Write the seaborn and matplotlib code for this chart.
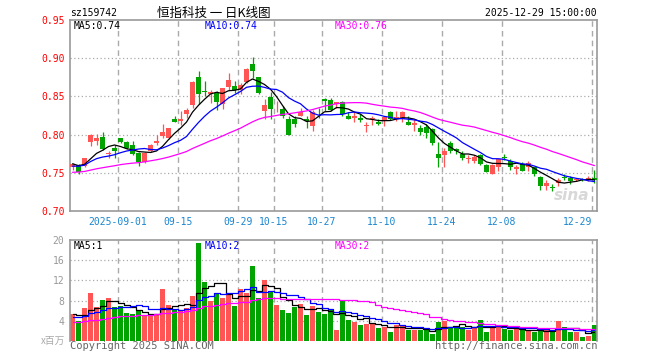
import numpy as np
import pandas as pd
import matplotlib
matplotlib.use("Agg")
import matplotlib.pyplot as plt
import seaborn as sns

# ---------------- data ----------------
open_ = [0.757, 0.760, 0.759, 0.790, 0.792, 0.797, 0.775, 0.782, 0.795, 0.790,
         0.787, 0.776, 0.764, 0.778, 0.789, 0.798, 0.795, 0.821, 0.818, 0.827,
         0.839, 0.875, 0.857, 0.853, 0.854, 0.840, 0.862, 0.864, 0.859, 0.869,
         0.892, 0.875, 0.831, 0.849, 0.837, 0.834, 0.821, 0.820, 0.824, 0.821,
         0.811, 0.830, 0.846, 0.845, 0.840, 0.843, 0.824, 0.822, 0.822, 0.811,
         0.820, 0.817, 0.819, 0.829, 0.820, 0.820, 0.817, 0.813, 0.808, 0.810,
         0.807, 0.774, 0.773, 0.789, 0.781, 0.775, 0.768, 0.765, 0.773, 0.760,
         0.749, 0.758, 0.771, 0.766, 0.755, 0.762, 0.757, 0.757, 0.744, 0.733,
         0.731, 0.736, 0.744, 0.743, 0.740, 0.742, 0.740, 0.743]
high = [0.763, 0.761, 0.770, 0.801, 0.801, 0.804, 0.778, 0.786, 0.796, 0.792,
        0.792, 0.777, 0.777, 0.788, 0.799, 0.814, 0.809, 0.824, 0.831, 0.835,
        0.870, 0.883, 0.870, 0.859, 0.857, 0.861, 0.880, 0.870, 0.868, 0.887,
        0.902, 0.876, 0.847, 0.856, 0.844, 0.838, 0.824, 0.824, 0.835, 0.825,
        0.832, 0.835, 0.848, 0.848, 0.843, 0.844, 0.830, 0.830, 0.827, 0.817,
        0.824, 0.820, 0.823, 0.831, 0.831, 0.831, 0.824, 0.820, 0.813, 0.814,
        0.808, 0.790, 0.783, 0.792, 0.783, 0.779, 0.773, 0.773, 0.775, 0.762,
        0.761, 0.768, 0.774, 0.768, 0.760, 0.764, 0.765, 0.758, 0.746, 0.741,
        0.735, 0.743, 0.748, 0.746, 0.743, 0.743, 0.746, 0.754]
low = [0.754, 0.749, 0.758, 0.785, 0.787, 0.780, 0.770, 0.770, 0.789, 0.781,
       0.773, 0.759, 0.763, 0.777, 0.786, 0.796, 0.794, 0.816, 0.813, 0.822,
       0.835, 0.840, 0.850, 0.842, 0.832, 0.834, 0.859, 0.855, 0.853, 0.868,
       0.874, 0.853, 0.820, 0.820, 0.829, 0.822, 0.800, 0.810, 0.824, 0.809,
       0.805, 0.822, 0.831, 0.831, 0.835, 0.825, 0.820, 0.817, 0.817, 0.803,
       0.813, 0.812, 0.811, 0.819, 0.818, 0.817, 0.812, 0.805, 0.800, 0.795,
       0.787, 0.758, 0.758, 0.776, 0.774, 0.767, 0.763, 0.763, 0.760, 0.751,
       0.748, 0.752, 0.767, 0.754, 0.749, 0.752, 0.752, 0.746, 0.727, 0.728,
       0.726, 0.733, 0.740, 0.735, 0.739, 0.739, 0.739, 0.737]
close = [0.761, 0.751, 0.769, 0.800, 0.796, 0.781, 0.776, 0.779, 0.790, 0.782,
         0.774, 0.764, 0.776, 0.787, 0.792, 0.804, 0.808, 0.817, 0.821, 0.832,
         0.869, 0.853, 0.856, 0.856, 0.843, 0.861, 0.871, 0.859, 0.865, 0.886,
         0.883, 0.855, 0.839, 0.834, 0.838, 0.825, 0.800, 0.814, 0.829, 0.818,
         0.829, 0.829, 0.844, 0.832, 0.843, 0.827, 0.821, 0.824, 0.819, 0.813,
         0.822, 0.814, 0.823, 0.820, 0.823, 0.830, 0.813, 0.815, 0.803, 0.802,
         0.789, 0.769, 0.779, 0.778, 0.778, 0.769, 0.769, 0.771, 0.761, 0.751,
         0.760, 0.768, 0.770, 0.757, 0.758, 0.752, 0.763, 0.748, 0.733, 0.737,
         0.730, 0.740, 0.743, 0.739, 0.742, 0.740, 0.743, 0.740]
volume = [5.3, 4.0, 6.5, 9.6, 6.8, 8.2, 8.5, 6.8, 7.0, 5.6,
          5.4, 5.9, 5.0, 5.1, 5.3, 10.3, 7.2, 6.3, 6.2, 6.6,
          9.0, 19.5, 11.6, 8.0, 9.4, 8.5, 9.4, 6.9, 10.2, 9.5,
          14.8, 8.6, 12.0, 9.7, 7.2, 6.2, 5.6, 6.8, 7.4, 5.2,
          7.0, 5.8, 5.4, 6.4, 2.2, 7.9, 4.2, 3.8, 3.2, 3.4,
          3.6, 2.6, 2.8, 1.8, 3.2, 3.0, 2.2, 2.2, 2.2, 2.2,
          1.4, 3.8, 4.0, 2.8, 3.0, 2.8, 2.2, 2.8, 4.2, 1.8,
          3.0, 3.0, 2.4, 2.2, 2.4, 2.2, 2.0, 1.8, 2.0, 2.2,
          2.0, 4.0, 2.8, 1.8, 1.8, 0.8, 1.0, 3.2]
# sessions before the visible window (only feed the moving averages)
prior_close = [0.742, 0.745, 0.748, 0.744, 0.739, 0.736, 0.741, 0.746, 0.750, 0.748,
               0.745, 0.743, 0.747, 0.752, 0.755, 0.751, 0.748, 0.750, 0.753, 0.750,
               0.752, 0.755, 0.753, 0.758, 0.760, 0.763, 0.761, 0.764, 0.760]
prior_volume = [3.0, 2.8, 3.2, 3.5, 2.9, 3.1, 3.4, 3.0, 2.7, 3.3,
                3.6, 3.2, 2.9, 3.4, 3.8, 3.5, 3.1, 3.6, 3.9, 3.7,
                4.2, 3.6, 3.9, 4.5, 4.8, 5.2, 5.6, 5.0, 5.4]
tick_dates = ["2025-09-01", "2025-09-15", "2025-09-29", "2025-10-15", "2025-10-27",
              "2025-11-10", "2025-11-24", "2025-12-08", "2025-12-29"]
tick_labels = ["2025-09-01", "09-15", "09-29", "10-15", "10-27",
               "11-10", "11-24", "12-08", "12-29"]
price_ticks = [0.70, 0.75, 0.80, 0.85, 0.90, 0.95]
vol_ticks = [4, 8, 12, 16, 20]

# trading calendar (National Day holiday closed)
dates = [d for d in pd.bdate_range("2025-08-20", "2025-12-29")
         if not (pd.Timestamp("2025-10-01") <= d <= pd.Timestamp("2025-10-08"))]
date_str = [d.strftime("%Y-%m-%d") for d in dates]

n = len(close)
x = np.arange(n)
o = np.array(open_); c = np.array(close); h = np.array(high); l = np.array(low)
v = np.array(volume)

cs = pd.Series(prior_close + close)
vs = pd.Series(prior_volume + volume)
k = len(prior_close)
ma = {p: cs.rolling(p).mean().values[k:] for p in (5, 10, 30)}
vma = {p: vs.rolling(p).mean().values[k:] for p in (5, 10, 30)}

RED = "#ff5555"
GREEN = "#00a300"
GRID = "#aaaaaa"
SPINE = "#999999"
MA_COL = {5: "black", 10: "#0000ff", 30: "#ff00ff"}

sns.set_theme(style="white")
plt.rcParams["font.family"] = ["DejaVu Sans Mono", "Noto Sans CJK SC"]

W, H = 660, 360
fig = plt.figure(figsize=(W / 100, H / 100), dpi=100)
fig.patch.set_facecolor("white")


def px(xp, yp):
    return xp / W, 1 - yp / H


ax = fig.add_axes([70 / W, 1 - 211 / H, 527 / W, 191 / H])
ax2 = fig.add_axes([70 / W, 1 - 341 / H, 527 / W, 101 / H])

grid_x = [date_str.index(d) - 0.42 for d in tick_dates]

for a in (ax, ax2):
    a.set_facecolor("white")
    a.set_xlim(-0.42, n - 1 + 0.42)
    for gx in grid_x:
        a.axvline(gx, color=GRID, lw=1.0, ls=(0, (4, 3)), zorder=0)
    for s in a.spines.values():
        s.set_color(SPINE)
        s.set_linewidth(1.2)
    a.tick_params(axis="both", length=0)

# ---- price panel ----
ax.set_ylim(0.70, 0.95)
for gy in price_ticks[1:-1]:
    ax.axhline(gy, color=GRID, lw=0.9, ls=(0, (1, 2)), zorder=0)
up = c >= o
cols = np.where(up, RED, GREEN)
ax.vlines(x, l, h, colors=cols, lw=0.9, zorder=2)
body_b = np.minimum(o, c)
body_h = np.maximum(np.abs(c - o), 0.0009)
ax.bar(x, body_h, bottom=body_b, width=0.82, color=cols, linewidth=0, zorder=3)
for p in (5, 10, 30):
    sns.lineplot(x=x, y=ma[p], ax=ax, color=MA_COL[p], lw=0.9, zorder=4)
ax.set_yticks(price_ticks)
ax.set_yticklabels([f"{t:.2f}" for t in price_ticks], color="#ff0000", fontsize=7)
ax.set_xticks(grid_x)
ax.set_xticklabels(tick_labels, color="#1a86d0", fontsize=7)
ax.get_xticklabels()[-1].set_ha("right")
ax.tick_params(axis="y", pad=4)
ax.tick_params(axis="x", pad=4)
ax.set_xlabel(""); ax.set_ylabel("")
ax.text(0.985, 0.04, "sina", transform=ax.transAxes, ha="right", va="bottom",
        fontsize=11, style="italic", fontweight="bold", color="#d8d8d8",
        family="DejaVu Sans", zorder=1)

# ---- volume panel ----
ax2.set_ylim(0, 20)
ax2.spines["bottom"].set_visible(False)
for gy in vol_ticks[:-1]:
    ax2.axhline(gy, color=GRID, lw=0.9, ls=(0, (1, 2)), zorder=0)
ax2.bar(x, v, width=0.82, color=cols, linewidth=0, zorder=2)
for p in (5, 10, 30):
    sns.lineplot(x=x, y=vma[p], ax=ax2, color=MA_COL[p], lw=0.9, zorder=4,
                 drawstyle="steps-mid")
ax2.set_yticks(vol_ticks)
ax2.set_yticklabels([str(t) for t in vol_ticks], color="#999999", fontsize=7)
ax2.set_xticks([])
ax2.tick_params(axis="y", pad=4)
ax2.set_xlabel(""); ax2.set_ylabel("")

# ---- texts ----
fs = 7
fig.text(*px(70, 13), "sz159742", ha="left", va="center", fontsize=fs, color="black")
fig.text(*px(214, 13), "恒指科技 一 日K线图", ha="center", va="center", fontsize=9,
         color="black", family=["Noto Sans CJK SC", "DejaVu Sans"])
fig.text(*px(597, 13), f"{date_str[-1]} 15:00:00", ha="right", va="center",
         fontsize=fs, color="black")
fig.text(*px(74, 26), f"MA5:{ma[5][-1]:.2f}", ha="left", va="center", fontsize=fs, color=MA_COL[5])
fig.text(*px(205, 26), f"MA10:{ma[10][-1]:.2f}", ha="left", va="center", fontsize=fs, color=MA_COL[10])
fig.text(*px(335, 26), f"MA30:{ma[30][-1]:.2f}", ha="left", va="center", fontsize=fs, color=MA_COL[30])
fig.text(*px(74, 246), f"MA5:{int(vma[5][-1])}", ha="left", va="center", fontsize=fs, color=MA_COL[5])
fig.text(*px(205, 246), f"MA10:{int(vma[10][-1])}", ha="left", va="center", fontsize=fs, color=MA_COL[10])
fig.text(*px(335, 246), f"MA30:{int(vma[30][-1])}", ha="left", va="center", fontsize=fs, color=MA_COL[30])
fig.text(*px(65, 341), "x百万", ha="right", va="center", fontsize=7, color="#aaaaaa",
         family=["Noto Sans CJK SC", "DejaVu Sans"])
fig.text(*px(70, 346), "Copyright 2025 SINA.COM", ha="left", va="center", fontsize=7.5, color="#666666")
fig.text(*px(597, 346), "http://finance.sina.com.cn", ha="right", va="center", fontsize=7.5, color="#666666")

fig.savefig("out.png", dpi=100, facecolor="white")
